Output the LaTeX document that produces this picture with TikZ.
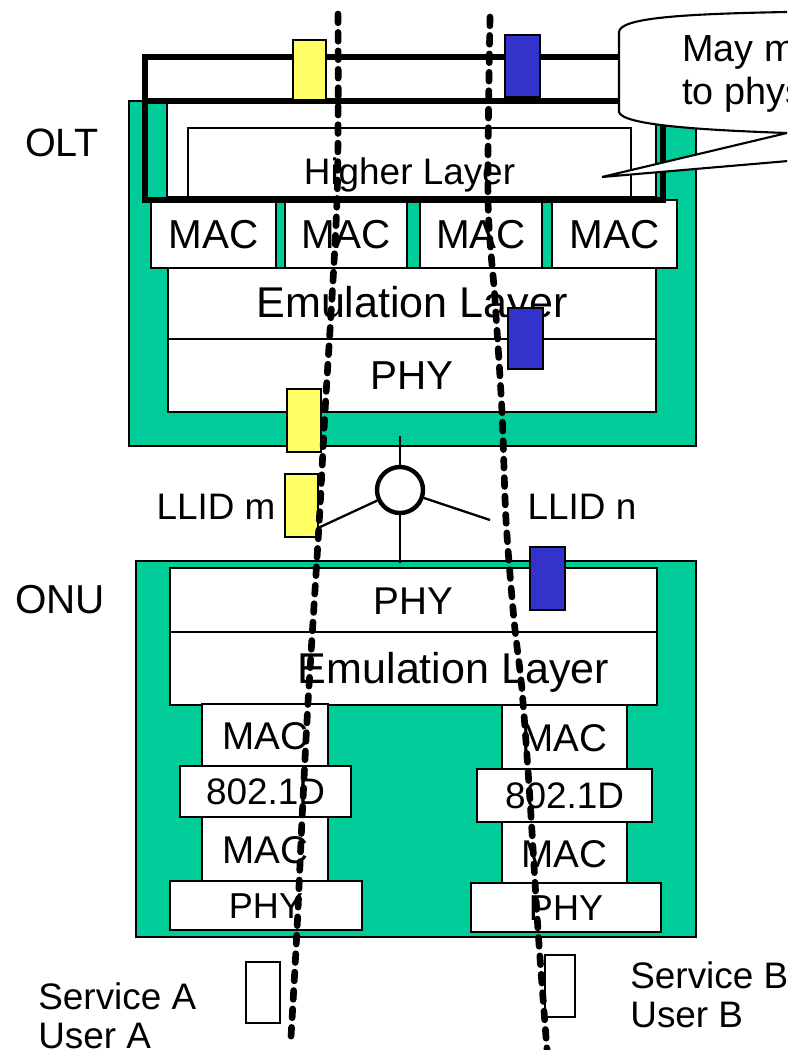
\documentclass[tikz,border=0pt]{standalone}
\usepackage{fontspec}
\setmainfont{Liberation Sans}
\usetikzlibrary{positioning}
\definecolor{ponGreen}{RGB}{0,204,153}
\definecolor{llidYellow}{RGB}{255,255,102}
\definecolor{llidBlue}{RGB}{51,51,204}
\newcommand{\pxu}{0.02cm}
% [style]{name}{x1}{y1}{x2}{y2}{text}, corners in pixels
\newcommand{\layerbox}[7][layer]{%
  \node[#1, minimum width={(#5-#3)*\pxu}, minimum height={(#6-#4)*\pxu},
    anchor=north west] (#2) at (#3,#4) {#7};}

\begin{document}
\begin{tikzpicture}[x=\pxu, y=-\pxu,
  layer/.style={draw, fill=white, line width=1.5pt, inner sep=0pt, outer sep=0pt},
  shelf/.style={draw, fill=ponGreen, line width=1.5pt, inner sep=0pt, outer sep=0pt},
  big/.style={font=\fontsize{23}{26}\selectfont, text height=16.5pt, text depth=0pt},
  mid/.style={font=\fontsize{21}{24}\selectfont, text height=15pt, text depth=0pt},
  pad/.style={draw, line width=1pt, inner sep=0pt, outer sep=0pt},
  flow/.style={line width=3.8pt, dash pattern=on 5pt off 5.5pt, line cap=round},
  fiber/.style={line width=1.3pt},
  heavy/.style={line width=3.4pt},
  tag/.style={font=\fontsize{21}{22}\selectfont, inner sep=0pt},
]
\useasboundingbox (0,0) rectangle (787,1050);
\clip (0,0) rectangle (787,1050);

% OLT
\layerbox[shelf]{olt}{129}{101}{696}{446}{}
\layerbox{hlframe}{167}{101}{656}{197}{}
\layerbox[layer, mid, text height=25pt]{higher}{188}{128}{631}{197}{Higher Layer}
\layerbox[layer, big]{macA}{151}{200}{276}{268}{MAC}
\layerbox[layer, big]{macB}{285}{200}{407}{268}{MAC}
\layerbox[layer, big]{macC}{420}{200}{542}{268}{MAC}
\layerbox[layer, big]{macD}{552}{200}{677}{268}{MAC}
\layerbox[layer, big, font=\fontsize{24.5}{26}\selectfont]{emuOlt}{168}{268}{656}{339}{Emulation Layer}
\layerbox[layer, big]{phyOlt}{168}{339}{656}{412}{PHY}
\draw[heavy] (145,57) rectangle (663,200);
\draw[heavy] (145,101) -- (663,101);
\node[tag, font=\fontsize{22.5}{24}\selectfont] (oltlbl) at (62,143) {OLT};

% ONU
\layerbox[shelf]{onu}{136}{561}{696}{937}{}
\layerbox[layer, big, font=\fontsize{22}{24}\selectfont]{phyOnu}{170}{568}{657}{632}{PHY}
\layerbox[layer, big, font=\fontsize{24.5}{26}\selectfont]{emuOnu}{170}{632}{657}{705}{\hspace*{1.6cm}Emulation Layer}
\layerbox[layer, big, font=\fontsize{22}{24}\selectfont]{macAup}{202}{704}{328}{766}{MAC}
\layerbox[layer, mid]{brgA}{180}{766}{351}{817}{802.1D}
\layerbox[layer, big, font=\fontsize{22}{24}\selectfont]{macAdn}{202}{817}{328}{881}{MAC}
\layerbox[layer, mid, font=\fontsize{20.5}{24}\selectfont]{phyA}{170}{881}{362}{930}{PHY}
\layerbox[layer, big, font=\fontsize{22}{24}\selectfont]{macBup}{502}{705}{627}{769}{MAC}
\layerbox[layer, mid]{brgB}{477}{769}{652}{822}{802.1D}
\layerbox[layer, big, font=\fontsize{22}{24}\selectfont]{macBdn}{502}{822}{627}{883}{MAC}
\layerbox[layer, mid, font=\fontsize{20.5}{24}\selectfont]{phyB}{471}{883}{661}{932}{PHY}
\node[tag, font=\fontsize{23}{24}\selectfont] (onulbl) at (60,600) {ONU};

% LLID frames
\layerbox[pad, fill=llidYellow]{ylwTop}{293}{40}{326}{100}{}
\layerbox[pad, fill=llidBlue]{bluTop}{505}{35}{540}{97}{}
\layerbox[pad, fill=llidBlue]{bluEmu}{508}{308}{543}{369}{}
\layerbox[pad, fill=llidYellow]{ylwPhy}{287}{389}{321}{452}{}
\layerbox[pad, fill=llidYellow]{ylwM}{285}{474}{318}{537}{}
\layerbox[pad, fill=llidBlue]{bluN}{530}{547}{565}{610}{}
\layerbox[pad]{svcA}{246}{962}{280}{1023}{}
\layerbox[pad]{svcB}{545}{955}{575}{1017}{}

% splitter
\node[draw, circle, line width=2.5pt, minimum size=46*\pxu, inner sep=0pt] (split) at (400,490) {};
\coordinate (tapOlt) at (400,436);
\coordinate (tapOnu) at (400,563);
\coordinate (tapM) at (318,528);
\coordinate (tapN) at (490,520);
\draw[fiber] (tapOlt) -- (split);
\draw[fiber] (split) -- (tapOnu);
\draw[fiber] (split) -- (tapM);
\draw[fiber] (split) -- (tapN);
\node[tag] (llidm) at (216,507) {LLID m};
\node[tag] (llidn) at (582,507) {LLID n};

% service paths
\draw[flow] plot[smooth] coordinates {(338,14) (337,200) (325,412) (319,525) (308,703) (302,820) (297,930) (291,1037)};
\draw[flow] plot[smooth] coordinates {(490,17) (488,200) (495,300) (502,412) (506,520) (514,620) (522,690) (530,800) (538,930) (547,1050)};

\node[tag, anchor=base west, align=left] (userA) at (38,1048) {Service A\\User A};
\node[tag, anchor=base west, align=left] (userB) at (630,1027) {Service B\\User B};

% callout
\draw[fill=white, line width=1.2pt] (800,11) -- (787,12) .. controls (680,14) and (620,18) .. (619,32)
  -- (619,112) .. controls (622,125) and (700,130) .. (787,133) -- (602,177) -- (800,160) -- cycle;
\node[tag, anchor=base west, align=left, font=\fontsize{21.5}{24.5}\selectfont] (note) at (682,105) {May m\\to phys};
\end{tikzpicture}
\end{document}
